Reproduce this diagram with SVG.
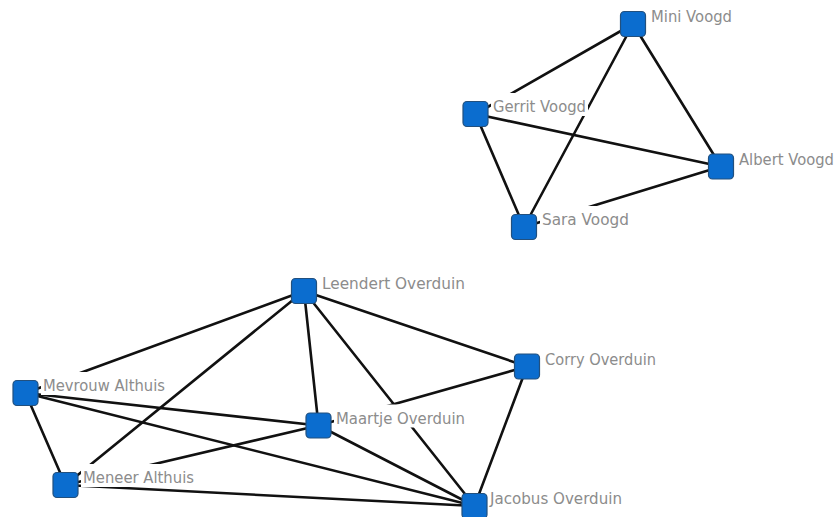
<svg xmlns="http://www.w3.org/2000/svg" width="836" height="517" viewBox="0 0 836 517">
<style>
.edge{stroke:#111;stroke-width:2.6;fill:none;stroke-linecap:round}
.bg{fill:#fff}
.node{fill:#0b6dcf;stroke:#22507e;stroke-width:1.2}
.lbl{font-family:"DejaVu Sans",sans-serif;font-size:15px;fill:#8c8c8c}
</style>
<rect width="836" height="517" fill="#fff"/>
<g id="connectors">
<line class="edge" x1="633" y1="24" x2="475.5" y2="114"/>
<line class="edge" x1="633" y1="24" x2="524" y2="227"/>
<line class="edge" x1="633" y1="24" x2="721" y2="166.5"/>
<line class="edge" x1="475.5" y1="114" x2="721" y2="166.5"/>
<line class="edge" x1="475.5" y1="114" x2="524" y2="227"/>
<line class="edge" x1="721" y1="166.5" x2="524" y2="227"/>
<line class="edge" x1="304" y1="291" x2="25.5" y2="393"/>
<line class="edge" x1="304" y1="291" x2="65.5" y2="485"/>
<line class="edge" x1="304" y1="291" x2="318.5" y2="425.5"/>
<line class="edge" x1="304" y1="291" x2="527" y2="366.5"/>
<line class="edge" x1="304" y1="291" x2="474.5" y2="506"/>
<line class="edge" x1="527" y1="366.5" x2="474.5" y2="506"/>
<line class="edge" x1="318.5" y1="425.5" x2="527" y2="366.5"/>
<line class="edge" x1="25.5" y1="393" x2="318.5" y2="425.5"/>
<line class="edge" x1="25.5" y1="393" x2="474.5" y2="506"/>
<line class="edge" x1="25.5" y1="393" x2="65.5" y2="485"/>
<line class="edge" x1="318.5" y1="425.5" x2="65.5" y2="485"/>
<line class="edge" x1="318.5" y1="425.5" x2="474.5" y2="506"/>
<line class="edge" x1="65.5" y1="485" x2="474.5" y2="506"/>
</g>
<g id="node-mini">
<rect class="bg" x="649" y="3" width="85" height="23"/>
<rect class="node" x="620.5" y="11.5" width="25" height="25" rx="4"/>
<text class="lbl" x="651" y="22" textLength="81" lengthAdjust="spacingAndGlyphs">Mini Voogd</text>
</g>
<g id="node-gerrit">
<rect class="bg" x="491" y="93" width="97" height="23"/>
<rect class="node" x="463" y="101.5" width="25" height="25" rx="4"/>
<text class="lbl" x="493" y="112" textLength="93" lengthAdjust="spacingAndGlyphs">Gerrit Voogd</text>
</g>
<g id="node-albert">
<rect class="bg" x="737" y="145.5" width="99" height="23"/>
<rect class="node" x="708.5" y="154" width="25" height="25" rx="4"/>
<text class="lbl" x="739" y="164.5" textLength="95" lengthAdjust="spacingAndGlyphs">Albert Voogd</text>
</g>
<g id="node-sara">
<rect class="bg" x="540" y="206" width="91" height="23"/>
<rect class="node" x="511.5" y="214.5" width="25" height="25" rx="4"/>
<text class="lbl" x="542" y="225" textLength="87" lengthAdjust="spacingAndGlyphs">Sara Voogd</text>
</g>
<g id="node-leendert">
<rect class="bg" x="320" y="270" width="147" height="23"/>
<rect class="node" x="291.5" y="278.5" width="25" height="25" rx="4"/>
<text class="lbl" x="322" y="289" textLength="143" lengthAdjust="spacingAndGlyphs">Leendert Overduin</text>
</g>
<g id="node-corry">
<rect class="bg" x="543" y="345.5" width="115" height="23"/>
<rect class="node" x="514.5" y="354" width="25" height="25" rx="4"/>
<text class="lbl" x="545" y="364.5" textLength="111" lengthAdjust="spacingAndGlyphs">Corry Overduin</text>
</g>
<g id="node-mevrouw">
<rect class="bg" x="41" y="372" width="126" height="23"/>
<rect class="node" x="13" y="380.5" width="25" height="25" rx="4"/>
<text class="lbl" x="43" y="391" textLength="122" lengthAdjust="spacingAndGlyphs">Mevrouw Althuis</text>
</g>
<g id="node-maartje">
<rect class="bg" x="334" y="404.5" width="133" height="23"/>
<rect class="node" x="306" y="413" width="25" height="25" rx="4"/>
<text class="lbl" x="336" y="423.5" textLength="129" lengthAdjust="spacingAndGlyphs">Maartje Overduin</text>
</g>
<g id="node-meneer">
<rect class="bg" x="81" y="464" width="115" height="23"/>
<rect class="node" x="53" y="472.5" width="25" height="25" rx="4"/>
<text class="lbl" x="83" y="483" textLength="111" lengthAdjust="spacingAndGlyphs">Meneer Althuis</text>
</g>
<g id="node-jacobus">
<rect class="bg" x="488" y="485" width="136" height="23"/>
<rect class="node" x="462" y="493.5" width="25" height="25" rx="4"/>
<text class="lbl" x="490" y="504" textLength="132" lengthAdjust="spacingAndGlyphs">Jacobus Overduin</text>
</g>
</svg>
